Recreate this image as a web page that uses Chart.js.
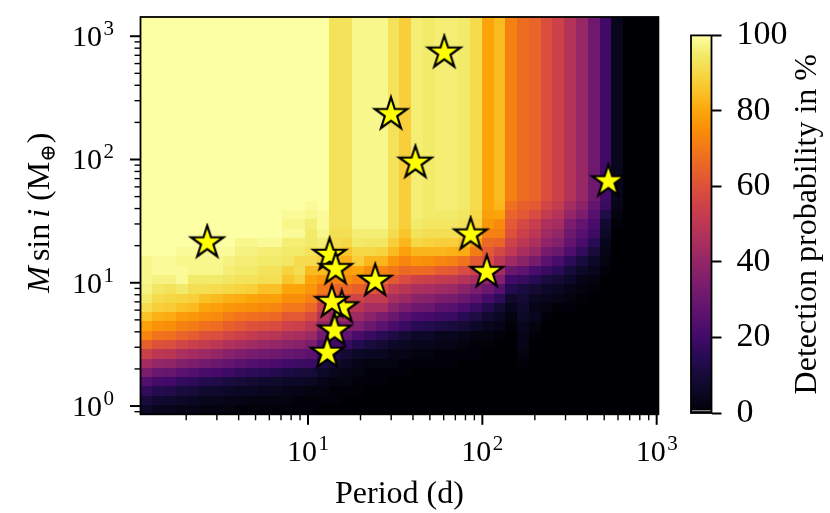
<!DOCTYPE html>
<html>
<head>
<meta charset="utf-8">
<script src="https://cdn.jsdelivr.net/npm/chart.js@4.4.0/dist/chart.umd.min.js"></script>
<style>
  html, body { margin: 0; padding: 0; background: #fff; }
  #wrap { position: relative; width: 830px; height: 513px; overflow: hidden; }
  #wrap canvas { position: absolute; top: 0; }
  #main { left: 0; width: 680px; height: 513px; }
  #cbar { left: 680px; width: 150px; height: 513px; }
</style>
</head>
<body>
<div id="wrap">
  <canvas id="main" width="680" height="513"></canvas>
  <canvas id="cbar" width="150" height="513"></canvas>
</div>
<script>
// grid extent, log10 of the outer cell edges
var periodEdges = [0.039, 3.010];
var massEdges = [-0.067, 3.171];
var periodRange = [1.094, 1023];
var massRange = [0.857, 1432];

var periodTicks = [10, 100, 1000];
var massTicks = [1, 10, 100, 1000];
var probTicks = [0, 20, 40, 60, 80, 100];

// detection probability (%) per cell, rows from the lowest mass upwards, 44 period columns
var lowRows = [
  [6,4,4,3,3,2,2,2,1,1,1,1,1,1,1,0,0,0,0,0,0,0,0,0,0,0,0,0,0,0,0,0,0,0,0,0,0,0,0,0,0,0,0,0],
  [11,8,7,6,5,4,4,3,3,2,2,2,2,1,1,1,1,0,0,0,0,0,0,0,0,0,0,0,0,0,0,0,0,0,0,0,0,0,0,0,0,0,0,0],
  [17,14,13,11,10,8,7,6,5,5,4,4,3,3,2,2,1,1,1,0,0,0,0,0,0,0,0,0,0,0,0,0,0,0,0,0,0,0,0,0,0,0,0,0],
  [24,21,20,17,16,14,13,11,10,9,8,7,6,6,5,3,2,2,1,1,1,0,0,0,0,0,0,0,0,0,0,0,0,0,0,0,0,0,0,0,0,0,0,0],
  [34,30,29,26,24,22,21,19,17,16,15,14,12,11,10,6,4,3,2,1,1,1,1,0,0,0,0,0,0,0,0,0,0,0,0,0,0,0,0,0,0,0,0,0],
  [44,40,39,36,34,32,30,28,26,24,23,22,20,19,18,11,7,5,3,2,2,2,1,1,1,1,1,0,0,0,0,0,1,0,0,0,0,0,0,0,0,0,0,0],
  [54,50,49,46,44,42,40,37,35,33,32,31,29,28,26,17,12,9,6,5,5,3,3,2,2,1,1,1,1,0,0,0,2,0,0,0,0,0,0,0,0,0,0,0],
  [64,60,59,56,54,52,50,47,45,43,41,40,38,37,34,24,20,18,14,11,9,6,5,4,4,3,3,2,1,1,0,0,3,0,0,0,0,0,0,0,0,0,0,0],
  [73,69,68,65,63,60,59,56,54,52,50,49,46,45,42,32,28,27,22,18,15,12,9,6,6,4,4,3,2,2,1,0,3,1,0,0,0,0,0,0,0,0,0,0],
  [79,76,75,72,71,68,67,64,62,60,59,58,55,54,50,40,35,36,35,30,26,22,18,15,14,12,11,9,6,4,3,1,4,2,0,0,0,0,0,0,0,0,0,0],
  [85,82,81,78,77,75,74,71,69,68,67,66,62,62,58,48,42,44,43,38,34,30,25,22,21,19,18,15,12,8,5,2,6,4,1,0,0,0,0,0,0,0,0,0],
  [91,88,87,85,84,80,79,77,76,75,74,73,70,70,66,55,50,52,49,45,45,38,34,31,30,26,25,22,18,14,9,4,7,3,2,1,1,0,0,0,0,0,0,0],
  [95,91,90,89,88,85,84,82,81,80,79,79,75,75,72,63,58,57,56,52,52,45,42,38,37,34,33,30,26,21,16,7,9,5,4,3,2,1,0,0,0,0,0,0],
  [97,94,93,95,92,92,91,90,89,88,85,85,80,80,77,70,65,66,64,61,59,52,49,46,45,43,42,38,34,30,25,14,11,9,6,5,3,2,1,0,0,0,0,0],
  [98,97,97,99,95,95,95,94,93,93,92,92,86,89,80,77,72,75,72,68,66,62,58,55,54,52,51,48,45,40,36,20,18,15,11,9,6,3,2,0,0,0,0,0],
  [98,99,99,99,98,98,98,96,95,95,93,93,89,92,84,84,78,78,80,75,73,70,66,67,66,63,62,58,55,50,44,30,27,22,18,15,10,6,4,1,0,0,0,0],
  [98,99,99,98,98,98,98,97,96,96,95,95,94,91,91,89,84,82,88,83,83,77,73,76,75,73,72,69,62,58,50,43,38,33,26,22,16,11,6,2,0,0,0,0],
  [100,100,100,99,99,99,99,99,97,97,96,96,95,95,93,93,88,86,90,90,89,84,79,83,83,83,82,81,71,62,57,51,45,41,33,30,23,17,10,3,0,0,0,0],
  [100,100,100,100,100,100,100,100,98,98,99,99,96,96,95,96,91,90,95,94,94,88,83,90,89,88,88,86,78,66,65,55,50,46,39,36,28,22,15,4,0,0,0,0],
  [100,100,100,100,100,100,100,100,100,100,100,100,99,99,95,98,92,92,96,96,96,91,86,93,92,92,92,90,86,72,72,60,54,50,43,40,31,25,19,6,0,0,0,0],
  [100,100,100,100,100,100,100,100,100,100,100,100,98,98,96,99,93,93,98,98,98,93,88,95,94,94,94,93,89,77,74,62,57,53,46,44,34,28,22,8,1,0,0,0],
  [100,100,100,100,100,100,100,100,100,100,100,100,99,99,98,99,93,93,98,98,98,93,88,96,95,95,95,94,90,79,80,65,62,58,52,48,40,34,25,13,2,0,0,0],
  [100,100,100,100,100,100,100,100,100,100,100,100,100,100,99,100,93,93,98,98,98,93,88,96,95,96,96,95,91,80,83,68,64,62,56,52,44,38,28,18,3,0,0,0]
];
// above the last low row every column keeps this value up to the top
var columnTop = [100,100,100,100,100,100,100,100,100,100,100,100,100,100,100,100,
  93,93,98,98,98,93,88,96,95,96,96,95,91,80,84,72,67,65,59,55,48,41,31,20,4,0,0,0];
var upperRowCount = 20;

// known planets
var starPeriod = [60.5, 29.9, 41.3, 528, 2.64, 85.7, 13.3, 14.4, 106, 24.3, 15.6, 13.7, 14.2, 12.9];
var starMass = [735, 233, 94.0, 66.4, 21.2, 24.6, 16.8, 12.9, 12.2, 10.35, 6.31, 6.97, 4.09, 2.70];

var inferno = [
  [0.00, 0, 0, 4], [0.05, 10, 7, 34], [0.10, 22, 11, 57], [0.15, 40, 11, 84],
  [0.20, 66, 10, 104], [0.25, 87, 16, 110], [0.30, 106, 23, 110], [0.35, 127, 30, 108],
  [0.40, 147, 38, 103], [0.45, 168, 46, 95], [0.50, 188, 55, 84], [0.55, 205, 66, 72],
  [0.60, 221, 81, 58], [0.65, 233, 100, 40], [0.70, 243, 120, 25], [0.75, 249, 142, 9],
  [0.80, 252, 165, 10], [0.85, 250, 193, 39], [0.90, 246, 215, 70], [0.95, 242, 234, 105],
  [1.00, 252, 255, 164]
];

var SERIF = '"Liberation Serif", "Times New Roman", "DejaVu Serif", serif';

function colorFor(t) {
  t = Math.max(0, Math.min(1, t));
  for (var i = 1; i < inferno.length; i++) {
    if (t <= inferno[i][0]) {
      var a = inferno[i - 1], b = inferno[i];
      var f = (t - a[0]) / (b[0] - a[0]);
      return 'rgb(' + Math.round(a[1] + f * (b[1] - a[1])) + ',' +
        Math.round(a[2] + f * (b[2] - a[2])) + ',' +
        Math.round(a[3] + f * (b[3] - a[3])) + ')';
    }
  }
  return 'rgb(252,255,164)';
}

function rowValues(r) {
  return r < lowRows.length ? lowRows[r] : columnTop;
}

function makeStar(R) {
  var size = Math.ceil(2 * R + 6);
  var c = document.createElement('canvas');
  c.width = size;
  c.height = size;
  var g = c.getContext('2d');
  var cx = size / 2, cy = size / 2, r = R * 0.381966;
  g.beginPath();
  for (var i = 0; i < 10; i++) {
    var rad = i % 2 === 0 ? R : r;
    var a = -Math.PI / 2 + i * Math.PI / 5;
    g.lineTo(cx + rad * Math.cos(a), cy + rad * Math.sin(a));
  }
  g.closePath();
  g.fillStyle = '#ffff00';
  g.fill();
  g.lineWidth = 2.2;
  g.strokeStyle = '#000';
  g.stroke();
  return c;
}

function drawPower(ctx, exp, x, y, align) {
  ctx.font = '30px ' + SERIF;
  var w1 = ctx.measureText('10').width;
  ctx.font = '21px ' + SERIF;
  var w2 = ctx.measureText(String(exp)).width;
  var total = w1 + 1.5 + w2;
  var left = align === 'center' ? x - total / 2 : x - total;
  ctx.textAlign = 'left';
  ctx.textBaseline = 'alphabetic';
  ctx.font = '30px ' + SERIF;
  ctx.fillText('10', left, y);
  ctx.font = '21px ' + SERIF;
  ctx.fillText(String(exp), left + w1 + 1.5, y - 11);
}

var heatmap = {
  id: 'heatmap',
  beforeDatasetsDraw: function (chart) {
    var ctx = chart.ctx, area = chart.chartArea;
    var xs = chart.scales.x, ys = chart.scales.y;
    var nCols = columnTop.length;
    var nRows = lowRows.length + upperRowCount;
    var dx = (periodEdges[1] - periodEdges[0]) / nCols;
    var dy = (massEdges[1] - massEdges[0]) / nRows;
    ctx.save();
    ctx.beginPath();
    ctx.rect(area.left, area.top, area.right - area.left, area.bottom - area.top);
    ctx.clip();
    for (var r = 0; r < nRows; r++) {
      var vals = rowValues(r);
      var y0 = Math.round(ys.getPixelForValue(Math.pow(10, massEdges[0] + r * dy)));
      var y1 = Math.round(ys.getPixelForValue(Math.pow(10, massEdges[0] + (r + 1) * dy)));
      for (var c = 0; c < nCols; c++) {
        var x0 = Math.round(xs.getPixelForValue(Math.pow(10, periodEdges[0] + c * dx)));
        var x1 = Math.round(xs.getPixelForValue(Math.pow(10, periodEdges[0] + (c + 1) * dx)));
        ctx.fillStyle = colorFor(vals[c] / 100);
        ctx.fillRect(x0, y1, x1 - x0, y0 - y1);
      }
    }
    ctx.restore();
  }
};

var axesDecor = {
  id: 'axesDecor',
  afterDraw: function (chart) {
    var ctx = chart.ctx, area = chart.chartArea;
    var xs = chart.scales.x, ys = chart.scales.y;
    ctx.save();
    ctx.strokeStyle = '#000';
    ctx.fillStyle = '#000';

    // x ticks
    [1, 10, 100].forEach(function (d) {
      for (var m = 2; m <= 9; m++) {
        var v = m * d;
        if (v < periodRange[0] || v > periodRange[1]) continue;
        var px = xs.getPixelForValue(v);
        ctx.lineWidth = 1.4;
        ctx.beginPath();
        ctx.moveTo(px, area.bottom);
        ctx.lineTo(px, area.bottom + 6);
        ctx.stroke();
      }
    });
    periodTicks.forEach(function (v) {
      var px = xs.getPixelForValue(v);
      ctx.lineWidth = 2;
      ctx.beginPath();
      ctx.moveTo(px, area.bottom);
      ctx.lineTo(px, area.bottom + 10.5);
      ctx.stroke();
      drawPower(ctx, Math.round(Math.log10(v)), px, 461, 'center');
    });

    // y ticks
    [0.1, 1, 10, 100, 1000].forEach(function (d) {
      for (var m = 2; m <= 9; m++) {
        var v = m * d;
        if (v < massRange[0] || v > massRange[1]) continue;
        var py = ys.getPixelForValue(v);
        ctx.lineWidth = 1.4;
        ctx.beginPath();
        ctx.moveTo(area.left, py);
        ctx.lineTo(area.left - 6, py);
        ctx.stroke();
      }
    });
    massTicks.forEach(function (v) {
      var py = ys.getPixelForValue(v);
      ctx.lineWidth = 2;
      ctx.beginPath();
      ctx.moveTo(area.left, py);
      ctx.lineTo(area.left - 10.5, py);
      ctx.stroke();
      drawPower(ctx, Math.round(Math.log10(v)), 114, py + 10, 'right');
    });

    // frame
    ctx.lineWidth = 1.8;
    ctx.strokeRect(area.left, area.top, area.right - area.left, area.bottom - area.top);

    // x title
    ctx.font = '32px ' + SERIF;
    ctx.textAlign = 'center';
    ctx.textBaseline = 'alphabetic';
    ctx.fillText('Period (d)', (area.left + area.right) / 2, 503);

    // y title: M sin i (M⊕)
    var pieces = [
      { t: 'M', f: 'italic 32px ' + SERIF, dy: 0, gap: 5 },
      { t: 'sin', f: '32px ' + SERIF, dy: 0, gap: 6 },
      { t: 'i', f: 'italic 32px ' + SERIF, dy: 0, gap: 8 },
      { t: '(M', f: '32px ' + SERIF, dy: 0, gap: 0 },
      { t: '\u2295', f: '21px ' + SERIF, dy: 6, gap: 1 },
      { t: ')', f: '32px ' + SERIF, dy: 0, gap: 0 }
    ];
    var total = 0;
    pieces.forEach(function (p) {
      ctx.font = p.f;
      p.w = ctx.measureText(p.t).width;
      total += p.w + p.gap;
    });
    ctx.translate(49, (area.top + area.bottom) / 2 - 3);
    ctx.rotate(-Math.PI / 2);
    ctx.textAlign = 'left';
    var cx = -total / 2;
    pieces.forEach(function (p) {
      ctx.font = p.f;
      ctx.fillText(p.t, cx, p.dy);
      cx += p.w + p.gap;
    });
    ctx.restore();
  }
};

var starImg = makeStar(17);
var points = starPeriod.map(function (p, i) {
  return { x: p, y: starMass[i] };
});

new Chart(document.getElementById('main').getContext('2d'), {
  type: 'scatter',
  data: {
    datasets: [{
      data: points,
      pointStyle: starImg,
      pointRadius: 16,
      pointHoverRadius: 16
    }]
  },
  options: {
    responsive: false,
    animation: false,
    events: [],
    layout: { padding: { left: 0, right: 21.6, top: 15, bottom: 0 } },
    plugins: { legend: { display: false }, tooltip: { enabled: false } },
    scales: {
      x: {
        type: 'logarithmic',
        min: periodRange[0],
        max: periodRange[1],
        ticks: { display: false },
        grid: { display: false },
        border: { display: false },
        afterFit: function (s) { s.height = 513 - 414.3; }
      },
      y: {
        type: 'logarithmic',
        min: massRange[0],
        max: massRange[1],
        ticks: { display: false },
        grid: { display: false },
        border: { display: false },
        afterFit: function (s) { s.width = 140.5; }
      }
    }
  },
  plugins: [heatmap, axesDecor]
});

var colorbarFill = {
  id: 'colorbarFill',
  beforeDatasetsDraw: function (chart) {
    var ctx = chart.ctx, area = chart.chartArea;
    var grad = ctx.createLinearGradient(0, area.bottom, 0, area.top);
    inferno.forEach(function (s) {
      grad.addColorStop(s[0], 'rgb(' + s[1] + ',' + s[2] + ',' + s[3] + ')');
    });
    ctx.save();
    ctx.fillStyle = grad;
    ctx.fillRect(area.left, area.top, area.right - area.left, area.bottom - area.top);
    // thin light line near the bottom of the bar
    var yLow = chart.scales.y.getPixelForValue(0.6);
    ctx.strokeStyle = 'rgba(190,190,190,0.9)';
    ctx.lineWidth = 1;
    ctx.beginPath();
    ctx.moveTo(area.left, yLow);
    ctx.lineTo(area.right, yLow);
    ctx.stroke();
    ctx.restore();
  },
  afterDraw: function (chart) {
    var ctx = chart.ctx, area = chart.chartArea;
    ctx.save();
    ctx.strokeStyle = '#000';
    ctx.lineWidth = 1.8;
    ctx.strokeRect(area.left, area.top, area.right - area.left, area.bottom - area.top);
    ctx.fillStyle = '#000';
    ctx.font = '32px ' + SERIF;
    ctx.textAlign = 'center';
    ctx.textBaseline = 'alphabetic';
    ctx.translate(136, (area.top + area.bottom) / 2);
    ctx.rotate(-Math.PI / 2);
    ctx.fillText('Detection probability in %', 0, 0);
    ctx.restore();
  }
};

new Chart(document.getElementById('cbar').getContext('2d'), {
  type: 'scatter',
  data: { datasets: [{ data: [] }] },
  options: {
    responsive: false,
    animation: false,
    events: [],
    layout: { padding: { left: 11, right: 0, top: 15, bottom: 100 } },
    plugins: { legend: { display: false }, tooltip: { enabled: false } },
    scales: {
      x: { type: 'linear', display: false },
      y: {
        type: 'linear',
        position: 'right',
        min: 0,
        max: 100,
        afterBuildTicks: function (s) {
          s.ticks = probTicks.map(function (v) { return { value: v }; });
        },
        ticks: {
          color: '#000',
          padding: 15,
          font: { family: SERIF, size: 34 }
        },
        grid: {
          drawOnChartArea: false,
          drawTicks: true,
          tickLength: 10,
          tickWidth: 2,
          tickColor: '#000'
        },
        border: { display: false },
        afterFit: function (s) { s.width = 150 - 31.5; }
      }
    }
  },
  plugins: [colorbarFill]
});
</script>
</body>
</html>
